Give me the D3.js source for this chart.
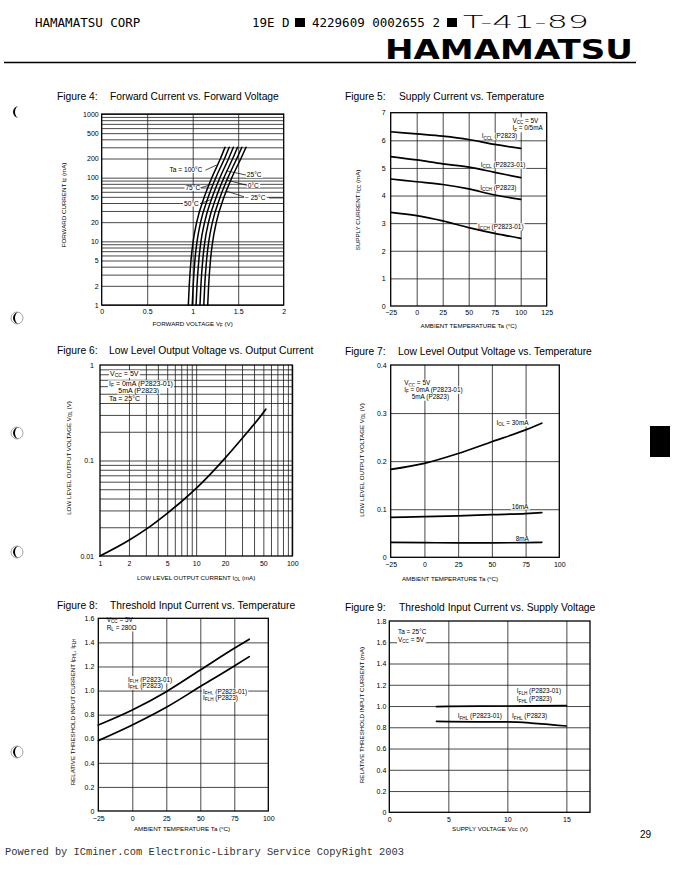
<!DOCTYPE html>
<html><head><meta charset="utf-8">
<script src="https://cdn.jsdelivr.net/npm/d3@7"></script>
<style>body{margin:0;background:#fff} svg{display:block}</style>
</head><body>
<script>
// ---------- DATA ----------
// Figure 4: forward current vs forward voltage
const fig4Current = [1, 2, 5, 10, 20, 50, 100, 200, 300];
const fig4Vf100 = [0.952, 0.962, 0.981, 1.005, 1.044, 1.128, 1.210, 1.305, 1.355];
const fig4Vf75  = [0.995, 1.005, 1.024, 1.048, 1.087, 1.172, 1.254, 1.350, 1.401];
const fig4Vf50  = [1.037, 1.047, 1.067, 1.091, 1.131, 1.216, 1.299, 1.395, 1.447];
const fig4Vf25  = [1.080, 1.090, 1.110, 1.134, 1.174, 1.260, 1.343, 1.440, 1.493];
const fig4Vf0   = [1.122, 1.132, 1.152, 1.177, 1.217, 1.303, 1.387, 1.485, 1.540];
const fig4VfM25 = [1.165, 1.175, 1.195, 1.220, 1.260, 1.345, 1.430, 1.530, 1.586];
const fig4YTicks = [1, 2, 5, 10, 20, 50, 100, 200, 500, 1000];
const fig4YTickLabels = ["1", "2", "5", "10", "20", "50", "100", "200", "500", "1000"];
const fig4XTicks = [0, 0.5, 1, 1.5, 2];
const fig4XTickLabels = ["0", "0.5", "1", "1.5", "2"];

// Figure 5: supply current vs temperature
const fig5Temp = [-25, 0, 25, 50, 75, 100];
const fig5IcclP2823   = [6.31, 6.23, 6.15, 6.03, 5.85, 5.71];
const fig5IcclP282301 = [5.41, 5.29, 5.15, 5.03, 4.84, 4.65];
const fig5IcchP2823   = [4.60, 4.50, 4.40, 4.24, 4.02, 3.86];
const fig5IcchP282301 = [3.39, 3.27, 3.08, 2.84, 2.63, 2.45];
const fig5XTicks = [-25, 0, 25, 50, 75, 100, 125];
const fig5XTickLabels = ["\u221225", "0", "25", "50", "75", "100", "125"];
const fig5YTicks = [0, 1, 2, 3, 4, 5, 6, 7];
const fig5YTickLabels = ["0", "1", "2", "3", "4", "5", "6", "7"];

// Figure 6: low level output voltage vs output current
const fig6Iol = [1, 2, 3, 5, 7, 10, 20, 30, 50, 53];
const fig6Vol = [0.0100, 0.0146, 0.0190, 0.0280, 0.0370, 0.051, 0.106, 0.170, 0.318, 0.345];
const fig6XTicks = [1, 2, 5, 10, 20, 50, 100];
const fig6XTickLabels = ["1", "2", "5", "10", "20", "50", "100"];
const fig6YTicks = [0.01, 0.1, 1];
const fig6YTickLabels = ["0.01", "0.1", "1"];

// Figure 7: low level output voltage vs temperature
const fig7Temp = [-25, 0, 25, 50, 75, 87];
const fig7Iol30 = [0.183, 0.1955, 0.216, 0.2405, 0.265, 0.279];
const fig7Iol16 = [0.083, 0.0845, 0.086, 0.0887, 0.091, 0.093];
const fig7Iol8  = [0.031, 0.0305, 0.030, 0.030, 0.0305, 0.031];
const fig7XTicks = [-25, 0, 25, 50, 75, 100];
const fig7XTickLabels = ["\u221225", "0", "25", "50", "75", "100"];
const fig7YTicks = [0, 0.1, 0.2, 0.3, 0.4];
const fig7YTickLabels = ["0", "0.1", "0.2", "0.3", "0.4"];

// Figure 8: threshold input current vs temperature
const fig8Temp = [-25, 0, 25, 50, 75, 86];
const fig8Upper = [0.714, 0.839, 0.991, 1.171, 1.351, 1.426];
const fig8Lower = [0.584, 0.714, 0.861, 1.033, 1.204, 1.282];
const fig8XTicks = [-25, 0, 25, 50, 75, 100];
const fig8XTickLabels = ["\u221225", "0", "25", "50", "75", "100"];
const fig8YTicks = [0, 0.2, 0.4, 0.6, 0.8, 1.0, 1.2, 1.4, 1.6];
const fig8YTickLabels = ["0", "0.2", "0.4", "0.6", "0.8", "1.0", "1.2", "1.4", "1.6"];

// Figure 9: threshold input current vs supply voltage
const fig9Vcc = [4, 5, 10, 12, 15];
const fig9Upper = [0.995, 0.997, 1.000, 1.002, 1.005];
const fig9Lower = [0.855, 0.853, 0.850, 0.840, 0.812];
const fig9XTicks = [0, 5, 10, 15];
const fig9XTickLabels = ["0", "5", "10", "15"];
const fig9YTicks = [0, 0.2, 0.4, 0.6, 0.8, 1.0, 1.2, 1.4, 1.6, 1.8];
const fig9YTickLabels = ["0", "0.2", "0.4", "0.6", "0.8", "1.0", "1.2", "1.4", "1.6", "1.8"];

// ---------- DRAWING ----------
const SANS = "'Liberation Sans', Arial, Helvetica, sans-serif";
const MONO = "'DejaVu Sans Mono', 'Liberation Mono', monospace";
const svg = d3.select('body').append('svg').attr('width', 683).attr('height', 880);
svg.append('rect').attr('width', 683).attr('height', 880).attr('fill', '#fff');

function rich(t, str, size) {
  const parts = str.split(/(_\{[^}]*\})/);
  let sub = false;
  parts.forEach(p => {
    if (!p) return;
    if (p.startsWith('_{')) {
      t.append('tspan').attr('font-size', size * 0.72).attr('dy', size * 0.22).text(p.slice(2, -1));
      sub = true;
    } else {
      const s = t.append('tspan').text(p);
      if (sub) { s.attr('dy', -size * 0.22); sub = false; }
    }
  });
}

function label(g, px, py, str, size, opts = {}) {
  const grp = g.append('g');
  const t = grp.append('text').attr('x', px).attr('y', py)
    .attr('font-family', SANS).attr('font-size', size).attr('fill', '#000')
    .attr('text-anchor', opts.anchor || 'start')
    .style('white-space', 'pre');
  rich(t, str, size);
  if (opts.bg !== false) {
    const b = t.node().getBBox();
    grp.insert('rect', 'text').attr('x', b.x - 1).attr('y', b.y + 0.5)
      .attr('width', b.width + 2).attr('height', b.height - 1).attr('fill', '#fff');
  }
  return grp;
}

function panel(o) {
  const g = svg.append('g');
  const x = (o.xLog ? d3.scaleLog() : d3.scaleLinear()).domain(o.xDomain).range([o.left, o.right]);
  const y = (o.yLog ? d3.scaleLog() : d3.scaleLinear()).domain(o.yDomain).range([o.bottom, o.top]);
  // grid via axes
  g.append('g').attr('transform', `translate(0,${o.bottom})`)
    .call(d3.axisBottom(x).tickValues(o.xGrid).tickSize(-(o.bottom - o.top)).tickFormat(''))
    .call(a => a.select('.domain').remove())
    .selectAll('line').attr('stroke', '#1a1a1a').attr('stroke-width', 0.8);
  g.append('g').attr('transform', `translate(${o.left},0)`)
    .call(d3.axisLeft(y).tickValues(o.yGrid).tickSize(-(o.right - o.left)).tickFormat(''))
    .call(a => a.select('.domain').remove())
    .selectAll('line').attr('stroke', '#1a1a1a').attr('stroke-width', 0.8);
  // tick labels
  const ax = g.append('g').attr('transform', `translate(0,${o.bottom})`)
    .call(d3.axisBottom(x).tickValues(o.xTicks).tickFormat((d, i) => o.xTickLabels[i]).tickSize(0).tickPadding(o.xPad || 4));
  ax.select('.domain').remove();
  ax.selectAll('text').attr('font-family', SANS).attr('font-size', 7).attr('fill', '#000');
  const ay = g.append('g').attr('transform', `translate(${o.left},0)`)
    .call(d3.axisLeft(y).tickValues(o.yTicks).tickFormat((d, i) => o.yTickLabels[i]).tickSize(0).tickPadding(o.yPad || 4));
  ay.select('.domain').remove();
  ay.selectAll('text').attr('font-family', SANS).attr('font-size', 7).attr('fill', '#000');
  // figure title
  g.append('text').attr('x', o.titleX).attr('y', o.titleY).attr('font-family', SANS).attr('font-size', 10.3)
    .text(o.figNo);
  g.append('text').attr('x', o.titleX2).attr('y', o.titleY).attr('font-family', SANS).attr('font-size', 10.3)
    .text(o.title);
  // axis titles
  const xt = g.append('text').attr('x', (o.xTitleX != null ? o.xTitleX : (o.left + o.right) / 2)).attr('y', o.xTitleY)
    .attr('text-anchor', 'middle').attr('font-family', SANS).attr('font-size', 6.2);
  rich(xt, o.xTitle, 6.2);
  const yt = g.append('text').attr('transform', `translate(${o.yTitleX},${o.yTitleY}) rotate(-90)`)
    .attr('text-anchor', 'middle').attr('font-family', SANS).attr('font-size', 6.2);
  rich(yt, o.yTitle, 6.2);
  // annotation layer
  const ann = g.append('g');
  (o.labels || []).forEach(l => label(ann, x(l.x), y(l.y), l.text, l.size || 6.6, { anchor: l.anchor }));
  (o.leaders || []).forEach(l => ann.append('line')
    .attr('x1', x(l.x1)).attr('y1', y(l.y1)).attr('x2', x(l.x2)).attr('y2', y(l.y2))
    .attr('stroke', '#000').attr('stroke-width', 0.7));
  // curves
  const line = d3.line().x(d => x(d[0])).y(d => y(d[1])).curve(d3.curveMonotoneX);
  o.series.forEach(s => {
    g.append('path').attr('d', line(s)).attr('fill', 'none').attr('stroke', '#000')
      .attr('stroke-width', o.curveW || 1.7).attr('stroke-linecap', 'round');
  });
  // frame
  g.append('rect').attr('x', o.left).attr('y', o.top).attr('width', o.right - o.left).attr('height', o.bottom - o.top)
    .attr('fill', 'none').attr('stroke', '#000').attr('stroke-width', 1.3);
  return { g, x, y };
}

const zip = (xs, ys) => xs.map((v, i) => [v, ys[i]]);
const zipInv = (ys, xs) => xs.map((v, i) => [v, ys[i]]);

// Figure 4 minor log grid
const fig4YGrid = d3.range(1, 10).concat(d3.range(10, 100, 10), d3.range(100, 1001, 100));
panel({
  left: 101.7, right: 283.7, top: 114, bottom: 305,
  xDomain: [0, 2], yLog: true, yDomain: [1, 1000],
  xGrid: [0.5, 1, 1.5], yGrid: fig4YGrid,
  xTicks: fig4XTicks, xTickLabels: fig4XTickLabels, xPad: 4,
  yTicks: fig4YTicks, yTickLabels: fig4YTickLabels, yPad: 3,
  figNo: 'Figure  4:', title: 'Forward Current vs. Forward Voltage', titleX: 57, titleX2: 110, titleY: 100,
  xTitle: 'FORWARD VOLTAGE V_{F} (V)', xTitleY: 326,
  yTitle: 'FORWARD CURRENT I_{F} (mA)', yTitleX: 66, yTitleY: 205,
  series: [fig4Vf100, fig4Vf75, fig4Vf50, fig4Vf25, fig4Vf0, fig4VfM25].map(v => zipInv(fig4Current, v)),
  curveW: 1.5,
  labels: [
    { x: 0.745, y: 121, text: 'Ta = 100\u00B0C' },
    { x: 0.92, y: 63, text: '75\u00B0C' },
    { x: 0.905, y: 36, text: '50\u00B0C' },
    { x: 1.595, y: 101, text: '25\u00B0C' },
    { x: 1.605, y: 70, text: '0\u00B0C' },
    { x: 1.575, y: 44.5, text: '\u2212 25\u00B0C' }
  ],
  leaders: [
    { x1: 1.14, y1: 131, x2: 1.262, y2: 158 },
    { x1: 1.085, y1: 69, x2: 1.215, y2: 79 },
    { x1: 1.08, y1: 39, x2: 1.195, y2: 45 },
    { x1: 1.585, y1: 110, x2: 1.372, y2: 128 },
    { x1: 1.595, y1: 76, x2: 1.37, y2: 92 },
    { x1: 1.565, y1: 50, x2: 1.365, y2: 62 },
    { x1: 1.84, y1: 48, x2: 2, y2: 48 }
  ]
});

panel({
  left: 390.7, right: 546.7, top: 112.7, bottom: 306,
  xDomain: [-25, 125], yDomain: [0, 7],
  xGrid: [0, 25, 50, 75, 100], yGrid: [1, 2, 3, 4, 5, 6],
  xTicks: fig5XTicks, xTickLabels: fig5XTickLabels, xPad: 4,
  yTicks: fig5YTicks, yTickLabels: fig5YTickLabels, yPad: 5,
  figNo: 'Figure  5:', title: 'Supply Current vs. Temperature', titleX: 345, titleX2: 399, titleY: 100,
  xTitle: 'AMBIENT TEMPERATURE Ta (\u00B0C)', xTitleY: 328,
  yTitle: 'SUPPLY CURRENT I_{CC} (mA)', yTitleX: 360, yTitleY: 210,
  series: [fig5IcclP2823, fig5IcclP282301, fig5IcchP2823, fig5IcchP282301].map(v => zip(fig5Temp, v)),
  labels: [
    { x: 92, y: 6.63, text: 'V_{CC} = 5V', size: 6.4 },
    { x: 92, y: 6.36, text: 'I_{F} = 0/5mA', size: 6.4 },
    { x: 62.5, y: 6.07, text: 'I_{CCL} (P2823)', size: 6.4 },
    { x: 61.5, y: 5.04, text: 'I_{CCL} (P2823-01)', size: 6.4 },
    { x: 61, y: 4.21, text: 'I_{CCH} (P2823)', size: 6.4 },
    { x: 59, y: 2.8, text: 'I_{CCH} (P2823-01)', size: 6.4 }
  ]
});

panel({
  left: 100, right: 292.3, top: 365, bottom: 556,
  xLog: true, xDomain: [1, 100], yLog: true, yDomain: [0.01, 1],
  xGrid: d3.range(2, 10).concat(d3.range(10, 101, 10)),
  yGrid: d3.range(2, 10).map(d => d / 100).concat(d3.range(1, 10).map(d => d / 10)),
  xTicks: fig6XTicks, xTickLabels: fig6XTickLabels, xPad: 5,
  yTicks: fig6YTicks, yTickLabels: fig6YTickLabels, yPad: 6,
  figNo: 'Figure  6:', title: 'Low Level Output Voltage vs. Output Current', titleX: 57, titleX2: 109, titleY: 354,
  xTitle: 'LOW LEVEL OUTPUT CURRENT I_{OL} (mA)', xTitleY: 580,
  yTitle: 'LOW LEVEL OUTPUT VOLTAGE V_{OL} (V)', yTitleX: 71, yTitleY: 458,
  series: [zip(fig6Iol, fig6Vol)],
  labels: [
    { x: 1.27, y: 0.77, text: 'V_{CC} = 5V', size: 7 },
    { x: 1.24, y: 0.605, text: 'I_{F} = 0mA (P2823-01)', size: 7 },
    { x: 1.55, y: 0.51, text: '5mA (P2823)', size: 7 },
    { x: 1.24, y: 0.42, text: 'Ta = 25\u00B0C', size: 7 }
  ]
});

panel({
  left: 390.7, right: 559.3, top: 365, bottom: 557.3,
  xDomain: [-25, 100], yDomain: [0, 0.4],
  xGrid: [0, 25, 50, 75], yGrid: [0.1, 0.2, 0.3],
  xTicks: fig7XTicks, xTickLabels: fig7XTickLabels, xPad: 5,
  yTicks: fig7YTicks, yTickLabels: fig7YTickLabels, yPad: 4,
  figNo: 'Figure  7:', title: 'Low Level Output Voltage vs. Temperature', titleX: 345, titleX2: 398, titleY: 355,
  xTitle: 'AMBIENT TEMPERATURE Ta (\u00B0C)', xTitleY: 581, xTitleX: 450,
  yTitle: 'LOW LEVEL OUTPUT VOLTAGE V_{OL} (V)', yTitleX: 364, yTitleY: 460,
  series: [fig7Iol30, fig7Iol16, fig7Iol8].map(v => zip(fig7Temp, v)),
  labels: [
    { x: -15, y: 0.358, text: 'V_{CC} = 5V', size: 6.4 },
    { x: -15, y: 0.344, text: 'I_{F} = 0mA (P2823-01)', size: 6.4 },
    { x: -9.4, y: 0.329, text: '5mA (P2823)', size: 6.4 },
    { x: 53.5, y: 0.276, text: 'I_{OL} = 30mA', size: 6.4 },
    { x: 64.7, y: 0.1, text: '16mA', size: 6.4 },
    { x: 67.7, y: 0.033, text: '8mA', size: 6.4 }
  ]
});

panel({
  left: 98.3, right: 268.3, top: 618.3, bottom: 811,
  xDomain: [-25, 100], yDomain: [0, 1.6],
  xGrid: [0, 25, 50, 75], yGrid: [0.2, 0.4, 0.6, 0.8, 1.0, 1.2, 1.4],
  xTicks: fig8XTicks, xTickLabels: fig8XTickLabels, xPad: 5,
  yTicks: fig8YTicks, yTickLabels: fig8YTickLabels, yPad: 4,
  figNo: 'Figure  8:', title: 'Threshold Input Current vs. Temperature', titleX: 57, titleX2: 110, titleY: 609,
  xTitle: 'AMBIENT TEMPERATURE Ta (\u00B0C)', xTitleY: 831, xTitleX: 182,
  yTitle: 'RELATIVE THRESHOLD INPUT CURRENT I_{FHL}, I_{FLH}', yTitleX: 75, yTitleY: 712,
  series: [fig8Upper, fig8Lower].map(v => zip(fig8Temp, v)),
  labels: [
    { x: -18.8, y: 1.569, text: 'V_{CC} = 5V', size: 6.4 },
    { x: -18.8, y: 1.507, text: 'R_{L} = 280\u03A9', size: 6.4 },
    { x: -3.2, y: 1.075, text: 'I_{FLH} (P2823-01)', size: 6.4 },
    { x: -3.2, y: 1.021, text: 'I_{FHL} (P2823)', size: 6.4 },
    { x: 52, y: 0.971, text: 'I_{FHL} (P2823-01)', size: 6.4 },
    { x: 52, y: 0.922, text: 'I_{FLH} (P2823)', size: 6.4 }
  ]
});

panel({
  left: 389.3, right: 590, top: 621, bottom: 812.3,
  xDomain: [0, 17], yDomain: [0, 1.8],
  xGrid: [5, 10, 15], yGrid: [0.2, 0.4, 0.6, 0.8, 1.0, 1.2, 1.4, 1.6],
  xTicks: fig9XTicks, xTickLabels: fig9XTickLabels, xPad: 5,
  yTicks: fig9YTicks, yTickLabels: fig9YTickLabels, yPad: 3,
  figNo: 'Figure  9:', title: 'Threshold Input Current vs. Supply Voltage', titleX: 345, titleX2: 399, titleY: 611,
  xTitle: 'SUPPLY VOLTAGE Vcc (V)', xTitleY: 831, xTitleX: 490,
  yTitle: 'RELATIVE THRESHOLD INPUT CURRENT (mA)', yTitleX: 364, yTitleY: 715,
  series: [fig9Upper, fig9Lower].map(v => zip(fig9Vcc, v)),
  labels: [
    { x: 0.74, y: 1.673, text: 'Ta = 25\u00B0C', size: 6.4 },
    { x: 0.74, y: 1.602, text: 'V_{CC} = 5V', size: 6.4 },
    { x: 10.8, y: 1.118, text: 'I_{FLH} (P2823-01)', size: 6.4 },
    { x: 10.8, y: 1.043, text: 'I_{FHL} (P2823)', size: 6.4 },
    { x: 5.8, y: 0.883, text: 'I_{FHL} (P2823-01)', size: 6.4 },
    { x: 10.4, y: 0.883, text: 'I_{FHL} (P2823)', size: 6.4 }
  ]
});

// ---------- PAGE HEADER / FOOTER ----------
svg.append('text').attr('x', 35).attr('y', 27).attr('font-family', MONO).attr('font-size', 12.5).text('HAMAMATSU CORP');
svg.append('text').attr('x', 252).attr('y', 27).attr('font-family', MONO).attr('font-size', 12.5).style('white-space', 'pre').text('19E D');
svg.append('rect').attr('x', 295).attr('y', 18).attr('width', 10).attr('height', 9).attr('fill', '#000');
svg.append('text').attr('x', 312).attr('y', 27).attr('font-family', MONO).attr('font-size', 12.5).style('white-space', 'pre').text('4229609 0002655 2');
svg.append('rect').attr('x', 447).attr('y', 18).attr('width', 10).attr('height', 9).attr('fill', '#000');
svg.append('text').attr('x', 463).attr('y', 28).attr('font-family', "'DejaVu Sans', sans-serif").attr('font-weight', 300)
  .attr('font-size', 18).attr('textLength', 126).attr('lengthAdjust', 'spacingAndGlyphs').text('T-41-89');
svg.append('text').attr('x', 385).attr('y', 58.5).attr('font-family', "'DejaVu Sans', sans-serif").attr('font-weight', 'bold')
  .attr('font-size', 27).attr('textLength', 248).attr('lengthAdjust', 'spacingAndGlyphs').text('HAMAMATSU');
svg.append('line').attr('x1', 4).attr('x2', 636).attr('y1', 62.5).attr('y2', 62.5).attr('stroke', '#000').attr('stroke-width', 1.6);

svg.append('text').attr('x', 640).attr('y', 838).attr('font-family', SANS).attr('font-size', 10).text('29');
svg.append('text').attr('x', 5).attr('y', 855).attr('font-family', "'Liberation Mono', monospace").attr('font-size', 10.4)
  .attr('fill', '#333').text('Powered by ICminer.com Electronic-Library Service CopyRight 2003');

// black tab on the right
svg.append('rect').attr('x', 650).attr('y', 426).attr('width', 20).attr('height', 31).attr('fill', '#000');

// binding-hole marks on the left margin
const holes = [[17, 112, 0], [17, 318, 1], [17, 433, 1], [17, 552, 1], [17, 752, 1]];
holes.forEach(([cx, cy, full]) => {
  if (full) svg.append('circle').attr('cx', cx).attr('cy', cy).attr('r', 6).attr('fill', 'none').attr('stroke', '#666').attr('stroke-width', 0.6);
  svg.append('path').attr('d', `M${cx + 2},${cy - 6} A6,6 0 0,0 ${cx + 2},${cy + 6} A4,6 0 0,1 ${cx + 2},${cy - 6}Z`).attr('fill', '#000');
});
</script>
</body></html>
